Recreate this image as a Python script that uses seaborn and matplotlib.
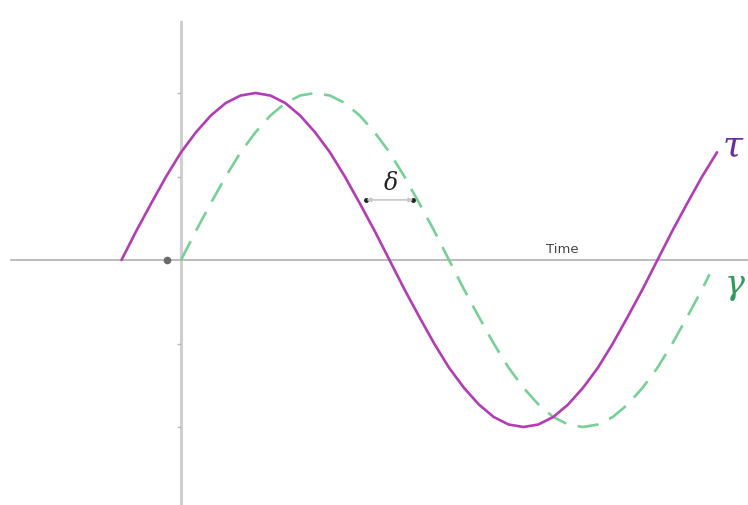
import matplotlib
matplotlib.use("Agg")
import matplotlib.pyplot as plt
import seaborn as sns
import pandas as pd

# Phase angle (degrees) and signal level for the two waves
tau_time = list(range(-40, 361, 10))
tau_value = [0.00, 0.35, 0.68, 1.00, 1.29, 1.53, 1.73, 1.88, 1.97, 2.00,
             1.97, 1.88, 1.73, 1.53, 1.29, 1.00, 0.68, 0.35, 0.00,
             -0.35, -0.68, -1.00, -1.29, -1.53, -1.73, -1.88, -1.97, -2.00,
             -1.97, -1.88, -1.73, -1.53, -1.29, -1.00, -0.68, -0.35, 0.00,
             0.35, 0.68, 1.00, 1.29]

gamma_time = list(range(0, 351, 10)) + [355]
gamma_value = [0.00, 0.35, 0.68, 1.00, 1.29, 1.53, 1.73, 1.88, 1.97, 2.00,
               1.97, 1.88, 1.73, 1.53, 1.29, 1.00, 0.68, 0.35, 0.00,
               -0.35, -0.68, -1.00, -1.29, -1.53, -1.73, -1.88, -1.97, -2.00,
               -1.97, -1.88, -1.73, -1.53, -1.29, -1.00, -0.68, -0.35, -0.17]

y_ticks = [-2, -1, 1, 2]
x_label = "Time"

tau_df = pd.DataFrame({"t": tau_time, "v": tau_value})
gamma_df = pd.DataFrame({"t": gamma_time, "v": gamma_value})

sns.set_theme(style="white")
plt.rcParams["mathtext.fontset"] = "dejavuserif"

fig = plt.figure(figsize=(7.48, 5.06), dpi=100)
ax = fig.add_axes([0, 0, 1, 1])

MAGENTA = "#b23cb4"
GREEN = "#78d096"

sns.lineplot(data=gamma_df, x="t", y="v", ax=ax, color=GREEN, linewidth=1.9,
             sort=False, estimator=None, dashes=False)
ax.lines[-1].set_dashes((8, 4.5))
sns.lineplot(data=tau_df, x="t", y="v", ax=ax, color=MAGENTA, linewidth=1.9,
             sort=False, estimator=None)

ax.set_xlim(-121.6, 380.8)
ax.set_ylim(-2.934, 3.126)

# Axes crossing at the origin
for s in ("top", "right"):
    ax.spines[s].set_visible(False)
ax.spines["left"].set_position(("data", 0))
ax.spines["bottom"].set_position(("data", 0))
ax.spines["left"].set_bounds(-2.934, 2.85)
ax.spines["bottom"].set_bounds(-114, 380.8)
ax.spines["left"].set_color("#cfcfcf")
ax.spines["left"].set_linewidth(2.2)
ax.spines["bottom"].set_color("#b0b0b0")
ax.spines["bottom"].set_linewidth(1.2)
ax.spines["left"].set_zorder(0)
ax.spines["bottom"].set_zorder(0)

ax.set_xticks([])
ax.set_yticks(y_ticks)
ax.set_yticklabels([])
ax.tick_params(axis="y", length=3, width=1, color="#bbbbbb", direction="out", left=True)
ax.set_xlabel("")
ax.set_ylabel("")

ax.plot([-9.4], [0], marker="o", markersize=4.5, color="#6a6a6a", linestyle="none")
ax.text(256, 0.14, x_label, fontsize=9.5, color="#444444", ha="center", va="center")

# Phase-shift marker between the two waves
ax.annotate("", xy=(124.5, 0.72), xytext=(156, 0.72),
            arrowprops=dict(arrowstyle="<|-|>", color="#c8c8c8", lw=1.2,
                            mutation_scale=6, shrinkA=0, shrinkB=0))
ax.plot([124.5, 156], [0.72, 0.72], marker="o", markersize=2.5,
        color="#222222", linestyle="none")
ax.text(140.5, 0.93, r"$\delta$", fontsize=17, color="#222222",
        ha="center", va="center")

ax.text(363.5, 1.38, r"$\tau$", fontsize=26, color="#6b2d9e",
        ha="left", va="center")
ax.text(364.5, -0.30, r"$\gamma$", fontsize=24, color="#2f9a5c",
        ha="left", va="center")

fig.savefig("out.png", dpi=100)
